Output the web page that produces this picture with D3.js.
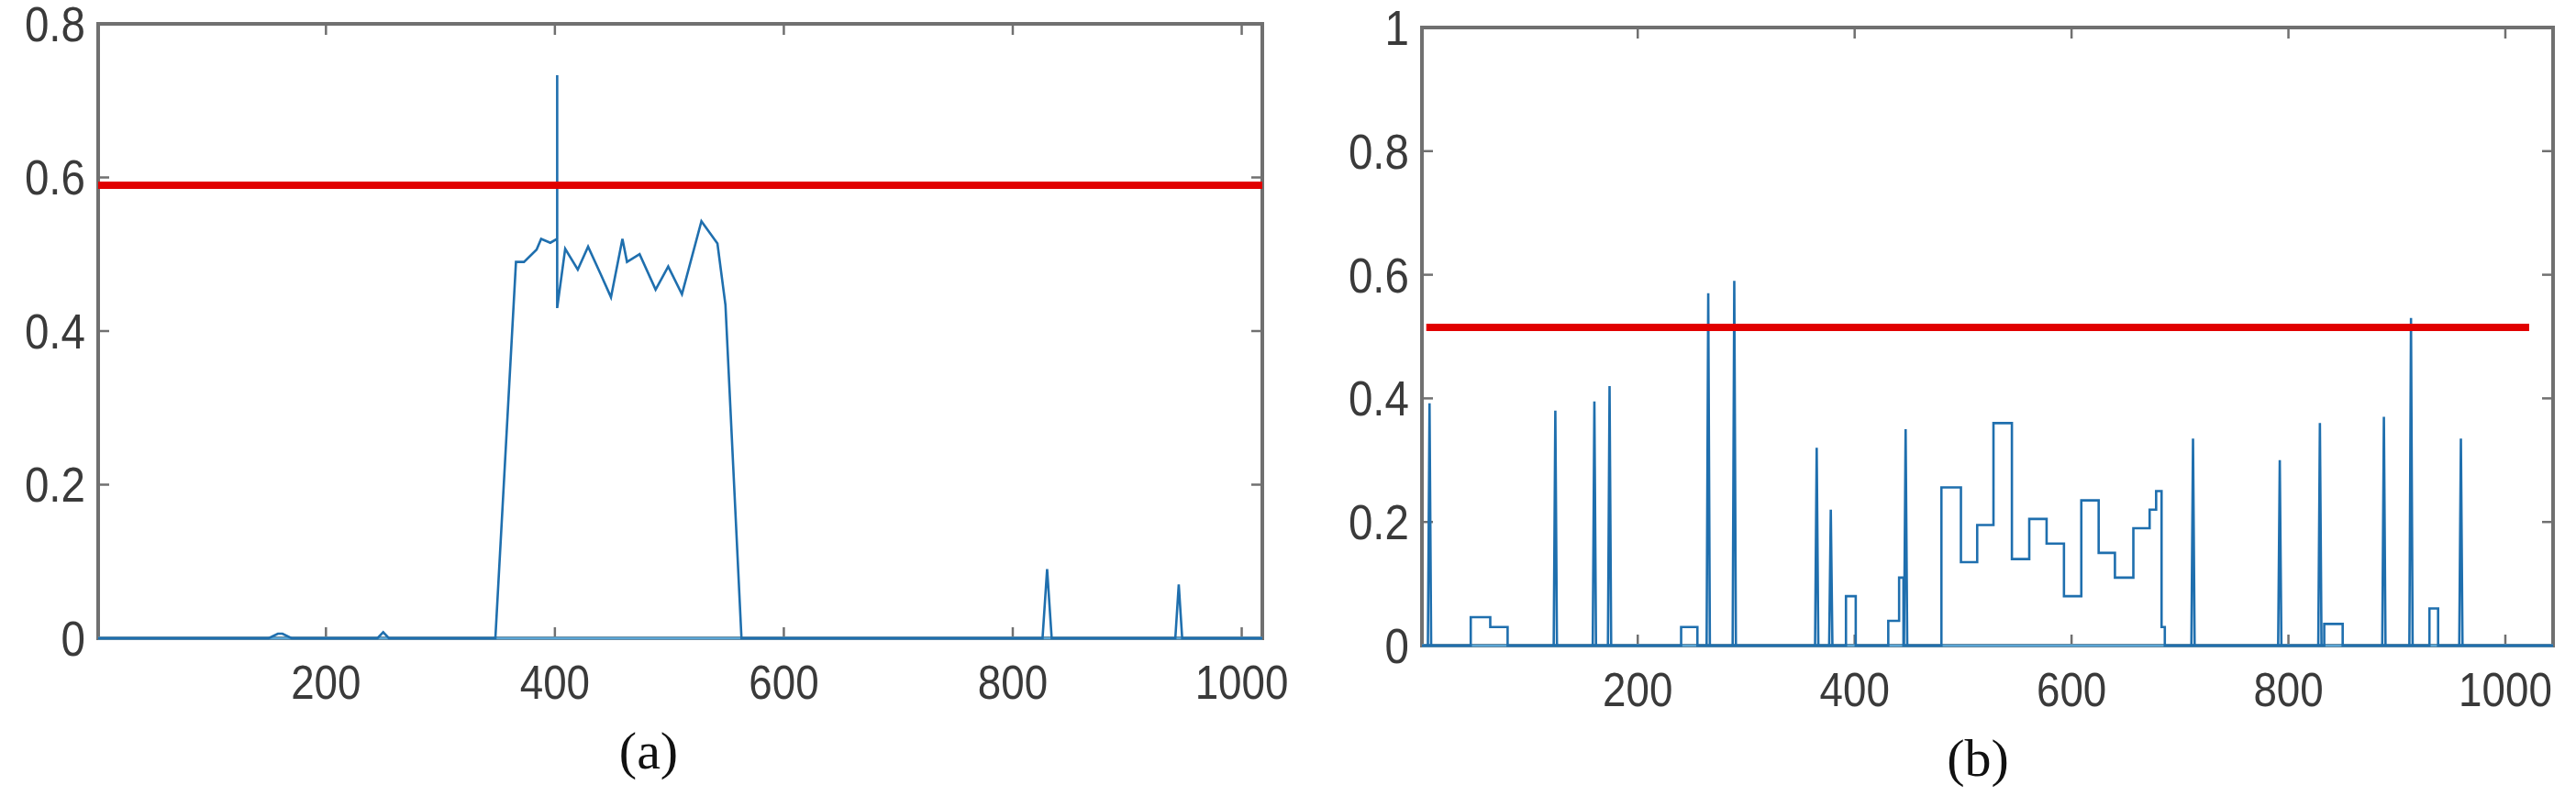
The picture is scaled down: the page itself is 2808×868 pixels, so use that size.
<!DOCTYPE html><html><head><meta charset="utf-8">
<script src="https://cdn.jsdelivr.net/npm/d3@7"></script>
<style>body{margin:0;background:#fff}svg{display:block}</style></head><body>
<svg id="c" width="2808" height="868"></svg>
<script>
// Panel (a)
const aX = [1,150,158,162,170,245,250,255,348,366,373,384,388,396,402,402,402,409,420,429,440,449,459,463,474,488,499,511,528,542,549,563,826,830,834,942,945,948,1018];
const aY = [0,0,0.006,0.006,0,0,0.008,0,0,0.49,0.49,0.506,0.52,0.515,0.52,0.733,0.43,0.507,0.48,0.51,0.474,0.444,0.52,0.49,0.50,0.454,0.484,0.448,0.543,0.514,0.434,0,0,0.09,0,0,0.07,0,0];
const aThreshold = 0.59;
const aYTicks = [0,0.2,0.4,0.6,0.8];
const xTicks = [200,400,600,800,1000];
// Panel (b): stepped blocks (x, level starting at x)
const bStepX = [1,46,64,80,240,240,255,392,392,401,431,431,441,445,480,480,498,513,528,545,561,577,593,609,625,640,657,672,678,683,686,691,833,833,850,930,930,938,1044];
const bStepY = [0,0.046,0.03,0,0,0.03,0,0,0.08,0,0,0.04,0.11,0,0,0.256,0.135,0.195,0.36,0.14,0.205,0.165,0.08,0.235,0.15,0.11,0.19,0.22,0.25,0.03,0,0,0,0.035,0,0,0.06,0,0];
const bSpikeX = [8,124,160,174,265,289,365,378,447,712,792,829,888,913,959];
const bSpikeY = [0.392,0.38,0.395,0.42,0.57,0.59,0.32,0.22,0.35,0.335,0.30,0.36,0.37,0.53,0.335];
const bThreshold = 0.515;
const bYTicks = [0,0.2,0.4,0.6,0.8,1];

const svg = d3.select("#c");
const blue = "#1f6fae", red = "#e10000", axc = "#707070", txt = "#3a3a3a";
const font = "'Liberation Sans Narrow','Liberation Sans',Arial,sans-serif";

function panel(o){
  const g = svg.append("g");
  const x = d3.scaleLinear().domain(o.xd).range([o.l,o.r]);
  const y = d3.scaleLinear().domain(o.yd).range([o.b,o.t]);
  const tl = 12;
  xTicks.forEach(v=>{
    g.append("line").attr("x1",x(v)).attr("x2",x(v)).attr("y1",o.b).attr("y2",o.b-tl).attr("stroke",axc).attr("stroke-width",2.5);
    g.append("line").attr("x1",x(v)).attr("x2",x(v)).attr("y1",o.t).attr("y2",o.t+tl).attr("stroke",axc).attr("stroke-width",2.5);
    g.append("text").attr("x",x(v)).attr("y",o.b+66).attr("text-anchor","middle").attr("font-family",font).attr("font-size",52).attr("fill",txt)
      .attr("transform",`translate(${x(v)},0) scale(0.88,1) translate(${-x(v)},0)`).text(v);
  });
  o.yt.forEach(v=>{
    g.append("line").attr("x1",o.l).attr("x2",o.l+tl).attr("y1",y(v)).attr("y2",y(v)).attr("stroke",axc).attr("stroke-width",2.5);
    g.append("line").attr("x1",o.r).attr("x2",o.r-tl).attr("y1",y(v)).attr("y2",y(v)).attr("stroke",axc).attr("stroke-width",2.5);
    const tx = o.l-14;
    g.append("text").attr("x",tx).attr("y",y(v)+19).attr("text-anchor","end").attr("font-family",font).attr("font-size",54).attr("fill",txt)
      .attr("transform",`translate(${tx},0) scale(0.88,1) translate(${-tx},0)`).text(d3.format("")(v));
  });
  g.append("rect").attr("x",o.l).attr("y",o.t).attr("width",o.r-o.l).attr("height",o.b-o.t).attr("fill","none").attr("stroke",axc).attr("stroke-width",4);
  g.append("line").attr("x1",o.l).attr("x2",o.r).attr("y1",y(0)).attr("y2",y(0)).attr("stroke","#5aa6d6").attr("stroke-width",3);
  o.draw(g,x,y);
  g.append("line").attr("x1",x(o.thX[0])).attr("x2",x(o.thX[1])).attr("y1",y(o.th)).attr("y2",y(o.th)).attr("stroke",red).attr("stroke-width",8);
  g.append("text").attr("x",o.cap[0]).attr("y",o.cap[1]).attr("text-anchor","middle").attr("font-family","'Liberation Serif','Times New Roman',serif").attr("font-size",58).attr("fill","#111").text(o.label);
}

panel({l:107,r:1376,t:26,b:696,xd:[1,1018],yd:[0,0.8],yt:aYTicks,th:aThreshold,thX:[1,1018],cap:[707,838],label:"(a)",
  draw:(g,x,y)=>{
    const pts = aX.map((v,i)=>[v,aY[i]]);
    g.append("path").attr("d",d3.line().x(d=>x(d[0])).y(d=>y(d[1]))(pts)).attr("fill","none").attr("stroke",blue).attr("stroke-width",2.6);
  }});

panel({l:1550,r:2783,t:30,b:704,xd:[1,1044],yd:[0,1],yt:bYTicks,th:bThreshold,thX:[5,1022],cap:[2156,846],label:"(b)",
  draw:(g,x,y)=>{
    const pts = bStepX.map((v,i)=>[v,bStepY[i]]);
    g.append("path").attr("d",d3.line().curve(d3.curveStepAfter).x(d=>x(d[0])).y(d=>y(d[1]))(pts)).attr("fill","none").attr("stroke",blue).attr("stroke-width",2.6);
    bSpikeX.forEach((v,i)=>{
      g.append("path").attr("d",d3.line().x(d=>x(d[0])).y(d=>y(d[1]))([[v-1.5,0],[v,bSpikeY[i]],[v+1.5,0]])).attr("fill","none").attr("stroke",blue).attr("stroke-width",2.6);
    });
  }});
</script></body></html>
